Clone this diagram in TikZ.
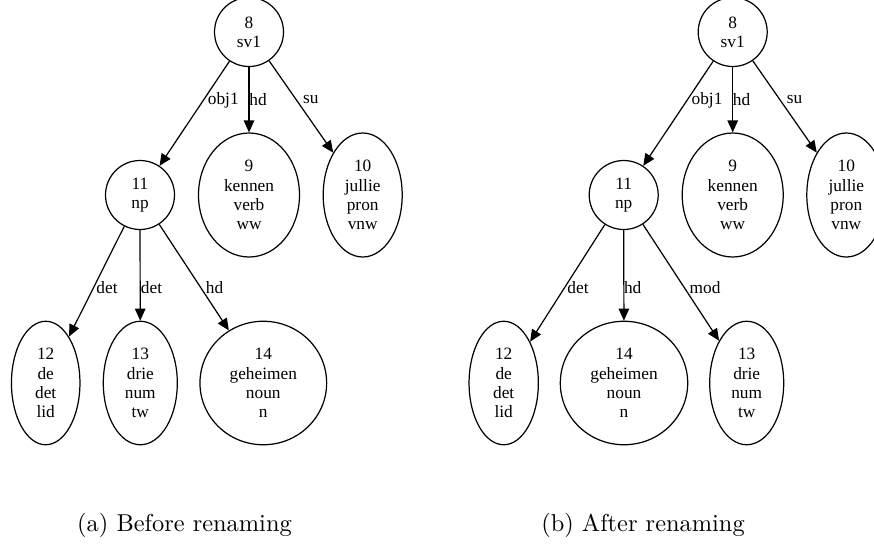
\documentclass[tikz,border=0pt]{standalone}
\usepackage{fontspec}
\newfontfamily\gvfont{Liberation Serif}
\usetikzlibrary{shapes.geometric,arrows.meta}
\tikzset{
  gv/.style={draw, line width=0.5pt, ellipse, inner sep=0pt, align=center,
    font=\gvfont\fontsize{7.1pt}{7.87pt}\selectfont},
  sz/.style 2 args={minimum width={#1*0.41pt}, minimum height={#2*0.41pt}},
  circ/.style={gv, sz={69}{69}},
  lbl/.style={inner sep=0pt, font=\gvfont\fontsize{7.1pt}{7.87pt}\selectfont},
  arr/.style={line width=0.5pt, -{Triangle[length=4.9pt,width=4.3pt]}},
  captxt/.style={inner sep=0pt, font=\fontsize{10pt}{12pt}\selectfont}
}
\begin{document}
\begin{tikzpicture}[x=0.41pt,y=-0.41pt]
\clip (0,0) rectangle (874,543);
\useasboundingbox (0,0) rectangle (874,543);
% ---------- (a) ----------
\node[circ] (a8) at (249,32) {8\\sv1};
\node[circ] (a11) at (140,195) {11\\np};
\node[gv, sz={101}{124}] (a9) at (249,195) {9\\kennen\\verb\\ww};
\node[gv, sz={79}{124}] (a10) at (362.7,195) {10\\jullie\\pron\\vnw};
\node[gv, sz={68.5}{123.5}] (a12) at (45.7,383) {12\\de\\det\\lid};
\node[gv, sz={74}{123.5}] (a13) at (140.3,383) {13\\drie\\num\\tw};
\node[gv, sz={126.7}{123.5}] (a14) at (263.3,383) {14\\geheimen\\noun\\n};
\draw[arr] (a8) -- (a11);
\draw[arr] (a8) -- (a9);
\draw[arr] (a8) -- (a10);
\draw[arr] (a11) -- (a12);
\draw[arr] (a11) -- (a13);
\draw[arr] (a11) -- (a14);
\node[lbl] (la1) at (223.3,100) {obj1};
\node[lbl] (la2) at (258,100) {hd};
\node[lbl] (la3) at (310.8,100) {su};
\node[lbl] (la4) at (107,288) {det};
\node[lbl] (la5) at (151.5,288) {det};
\node[lbl] (la6) at (214.5,288) {hd};
\node[captxt] (capa) at (184.5,525) {(a) Before renaming};
% ---------- (b) ----------
\node[circ] (b8) at (732.7,32) {8\\sv1};
\node[circ] (b11) at (623.7,195) {11\\np};
\node[gv, sz={101}{124}] (b9) at (732.7,195) {9\\kennen\\verb\\ww};
\node[gv, sz={79}{124}] (b10) at (846.3,195) {10\\jullie\\pron\\vnw};
\node[gv, sz={69.3}{123.5}] (b12) at (503.7,383) {12\\de\\det\\lid};
\node[gv, sz={127.4}{123.5}] (b14) at (624,383) {14\\geheimen\\noun\\n};
\node[gv, sz={74}{123.5}] (b13) at (746.7,383) {13\\drie\\num\\tw};
\draw[arr] (b8) -- (b11);
\draw[arr] (b8) -- (b9);
\draw[arr] (b8) -- (b10);
\draw[arr] (b11) -- (b12);
\draw[arr] (b11) -- (b14);
\draw[arr] (b11) -- (b13);
\node[lbl] (lb1) at (707,100) {obj1};
\node[lbl] (lb2) at (741.5,100) {hd};
\node[lbl] (lb3) at (794.5,100) {su};
\node[lbl] (lb4) at (578,288) {det};
\node[lbl] (lb5) at (632.7,288) {hd};
\node[lbl] (lb6) at (705,288) {mod};
\node[captxt] (capb) at (643,525) {(b) After renaming};
\end{tikzpicture}
\end{document}
